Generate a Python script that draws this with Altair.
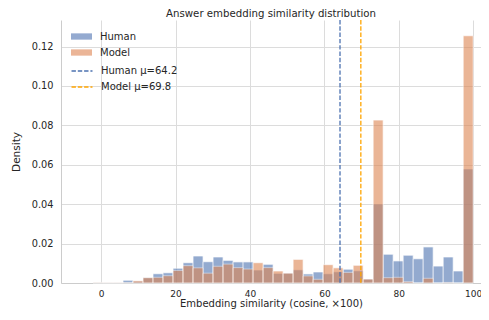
import altair as alt
import numpy as np
import pandas as pd

# Histogram bins (common bins, left to right), densities
BIN_LO = -2.2
BIN_HI = 100.0
N_BINS = 38

human_density = [
    0.0003, 0.0002, 0.0002, 0.0014, 0.0009, 0.0027, 0.0047, 0.0052, 0.0075, 0.0103,
    0.0137, 0.0108, 0.0132, 0.0115, 0.0107, 0.0107, 0.0066, 0.0095, 0.0049, 0.0050,
    0.0067, 0.0046, 0.0056, 0.0047, 0.0057, 0.0070, 0.0062, 0.0020, 0.0401, 0.0146,
    0.0112, 0.0141, 0.0123, 0.0183, 0.0086, 0.0132, 0.0061, 0.0579,
]
model_density = [
    0.0002, 0.0002, 0.0002, 0.0003, 0.0011, 0.0027, 0.0029, 0.0037, 0.0064, 0.0088,
    0.0077, 0.0050, 0.0085, 0.0096, 0.0078, 0.0071, 0.0103, 0.0078, 0.0061, 0.0050,
    0.0120, 0.0036, 0.0019, 0.0093, 0.0077, 0.0054, 0.0090, 0.0020, 0.0827, 0.0027,
    0.0029, 0.0007, 0.0000, 0.0024, 0.0000, 0.0003, 0.0000, 0.1255,
]
series_names = ["Human", "Model"]
mean_labels = ["Human μ=64.2", "Model μ=69.8"]
mean_values = [64.2, 69.8]

x_ticks = [0, 20, 40, 60, 80, 100]
y_ticks = [0.0, 0.02, 0.04, 0.06, 0.08, 0.10, 0.12]

edges = np.linspace(BIN_LO, BIN_HI, N_BINS + 1)
rows = []
for name, dens in zip(series_names, [human_density, model_density]):
    for i, d in enumerate(dens):
        rows.append({"series": name, "b0": edges[i], "b1": edges[i + 1], "density": d,
                     "order": series_names.index(name)})
hist = pd.DataFrame(rows)
means = pd.DataFrame({"label": mean_labels, "mu": mean_values})

FONT = "DejaVu Sans"
TXT = "#262626"

xscale = alt.Scale(domain=[-10.8, 102.1], nice=False, zero=False, padding=0)
yscale = alt.Scale(domain=[0, 0.1335], nice=False, padding=0)

bars = alt.Chart(hist).mark_bar(opacity=0.6, stroke="white", strokeWidth=0.7).encode(
    x=alt.X("b0:Q", scale=xscale,
            axis=alt.Axis(values=x_ticks, title="Embedding similarity (cosine, ×100)",
                          format="d")),
    x2="b1:Q",
    y=alt.Y("density:Q", scale=yscale, stack=None,
            axis=alt.Axis(values=y_ticks, format=".2f", title="Density")),
    y2=alt.Y2(datum=0),
    color=alt.Color("series:N",
                    scale=alt.Scale(domain=series_names, range=["#4C72B0", "#DD8452"]),
                    legend=alt.Legend(title=None, orient="none", legendX=15, legendY=11,
                                      symbolType="M-2,-0.6H2V0.6H-2Z", symbolSize=110,
                                      symbolOpacity=0.6, symbolStrokeWidth=0,
                                      labelOffset=13, rowPadding=5, padding=0)),
    order=alt.Order("order:Q"),
)

rules = alt.Chart(means).mark_rule(strokeDash=[4.4, 1.9], strokeWidth=1.3).encode(
    x=alt.X("mu:Q", scale=xscale),
    stroke=alt.Stroke("label:N",
                      scale=alt.Scale(domain=mean_labels, range=["#4C72B0", "#FFA500"]),
                      legend=alt.Legend(title=None, orient="none", legendX=15, legendY=45,
                                        symbolType="M-2,0H2", symbolSize=110,
                                        symbolStrokeWidth=1.3, symbolDash=[4.4, 1.9],
                                        labelOffset=13, rowPadding=5, padding=0)),
)

chart = alt.layer(bars, rules).resolve_scale(color="independent").properties(
    width=420, height=263,
    title=alt.TitleParams("Answer embedding similarity distribution", fontSize=10.2,
                          fontWeight="normal", color=TXT, font=FONT, offset=0),
    autosize=alt.AutoSizeParams(type="none"),
    padding={"left": 53, "top": 12, "right": 0, "bottom": 29},
).configure_view(stroke=None).configure_axis(
    grid=True, gridColor="#dcdcdc", gridWidth=1, domainColor="#cccccc", domainWidth=1,
    tickSize=0, labelFont=FONT, labelFontSize=9.75, labelColor=TXT, labelPadding=8,
    titleFont=FONT, titleFontSize=10.5, titleFontWeight="normal", titleColor=TXT,
).configure_axisX(titlePadding=0, labelFontSize=9, labelPadding=6,
                  titleFontSize=10).configure_axisY(titlePadding=10).configure_legend(
    labelFont=FONT, labelFontSize=10, labelColor=TXT,
)

chart.save("out.html", embed_options={"renderer": "svg", "actions": False})
